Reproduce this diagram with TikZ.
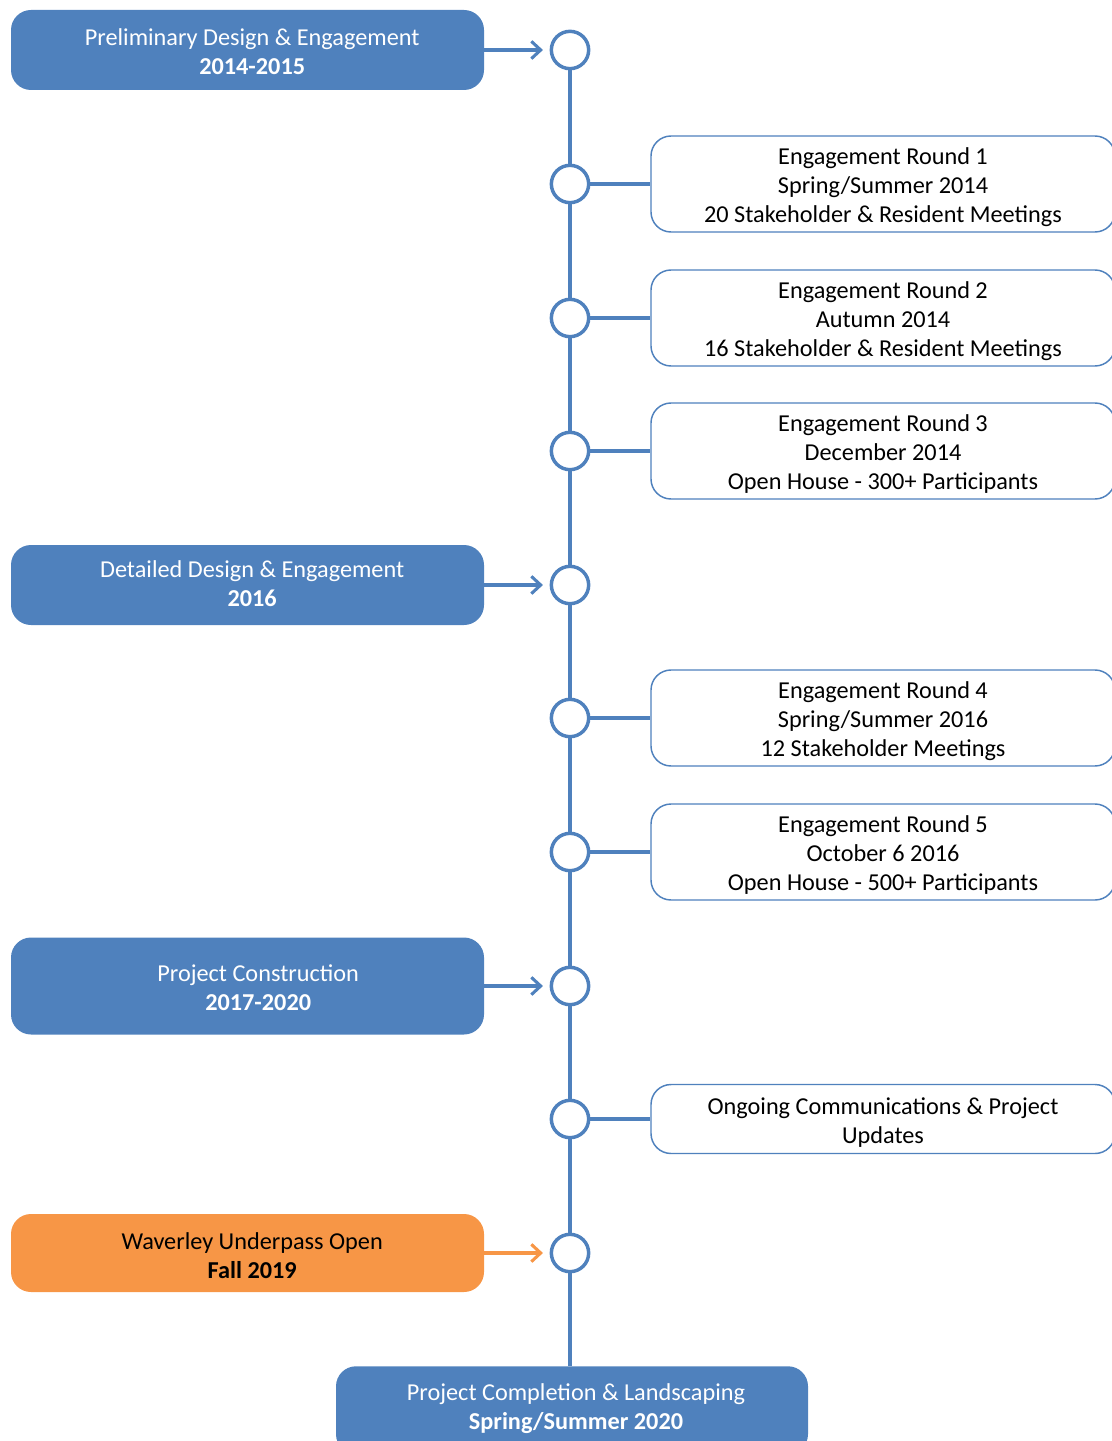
\documentclass[tikz,border=0pt]{standalone}
\usepackage{fontspec}
\setmainfont{Carlito}
\usetikzlibrary{arrows.meta}
\definecolor{tlblue}{RGB}{79,129,189}
\definecolor{tlorange}{RGB}{247,150,70}
\newcommand\boxtext[3]{\hspace*{#1}\raisebox{#2}[\height][\depth]{\begin{tabular}{@{}c@{}}#3\end{tabular}}}
\tikzset{
  phase/.style={draw=none, fill=tlblue, text=white, rounded corners=15pt, minimum width=354.75pt, align=center, inner sep=0pt, font=\fontsize{18.2}{21.75}\selectfont},
  phaseor/.style={phase, fill=tlorange, text=black},
  event/.style={draw=tlblue, line width=1.1pt, fill=white, text=black, rounded corners=15pt, minimum width=348pt, minimum height=72pt, align=center, inner sep=0pt, font=\fontsize{18.2}{21.75}\selectfont},
  dot/.style={circle, draw=tlblue, line width=2.6pt, fill=white, minimum size=28pt, inner sep=0pt},
  tl/.style={draw=tlblue, line width=2.3pt},
  phasearrow/.style={draw=tlblue, line width=2.3pt, -{Straight Barb[length=7pt,width=13pt,line width=2.3pt]}, shorten >=5pt},
  phasearrowor/.style={phasearrow, draw=tlorange}
}
\begin{document}
\begin{tikzpicture}[x=0.75pt,y=-0.75pt]
\path[use as bounding box] (0,0) rectangle (1112,1441);
\clip (0,0) rectangle (1112,1441);
% circles
\node[dot] (c1) at (570,50) {};
\node[dot] (c2) at (570,184) {};
\node[dot] (c3) at (570,318) {};
\node[dot] (c4) at (570,451) {};
\node[dot] (c5) at (570,585) {};
\node[dot] (c6) at (570,718) {};
\node[dot] (c7) at (570,852) {};
\node[dot] (c8) at (570,986) {};
\node[dot] (c9) at (570,1119) {};
\node[dot] (c10) at (570,1253) {};
% left phase boxes
\node[phase, minimum height=60pt] (b1) at (247.5,50) {\boxtext{7pt}{-3pt}{Preliminary Design \& Engagement\\\textbf{2014-2015}}};
\node[phase, minimum height=60pt] (b2) at (247.5,585) {\boxtext{7pt}{-0.75pt}{Detailed Design \& Engagement\\\textbf{2016}}};
\node[phase, minimum height=72.75pt] (b3) at (247.5,986) {\boxtext{16pt}{-3pt}{Project Construction\\\textbf{2017-2020}}};
\node[phaseor, minimum height=58.5pt] (b4) at (247.5,1253) {\boxtext{7pt}{-3.75pt}{Waverley Underpass Open\\\textbf{Fall 2019}}};
\node[phase, minimum width=354pt, minimum height=66pt, anchor=north] (b5) at (572,1366) {\boxtext{6pt}{0.75pt}{Project Completion \& Landscaping\\\textbf{Spring/Summer 2020}}};
% right event boxes
\node[event] (r1) at (883,184) {\boxtext{0pt}{-3pt}{Engagement Round 1\\Spring/Summer 2014\\20 Stakeholder \& Resident Meetings}};
\node[event] (r2) at (883,318) {\boxtext{0pt}{-3pt}{Engagement Round 2\\Autumn 2014\\16 Stakeholder \& Resident Meetings}};
\node[event] (r3) at (883,451) {\boxtext{0pt}{-3pt}{Engagement Round 3\\December 2014\\Open House - 300+ Participants}};
\node[event] (r4) at (883,718) {\boxtext{0pt}{-3pt}{Engagement Round 4\\Spring/Summer 2016\\12 Stakeholder Meetings}};
\node[event] (r5) at (883,852) {\boxtext{0pt}{-3pt}{Engagement Round 5\\October 6 2016\\Open House - 500+ Participants}};
\node[event, minimum height=51.75pt] (r6) at (883,1119) {\boxtext{0pt}{-3pt}{Ongoing Communications \& Project\\Updates}};
% timeline
\draw[tl] (c1) -- (c2);
\draw[tl] (c2) -- (c3);
\draw[tl] (c3) -- (c4);
\draw[tl] (c4) -- (c5);
\draw[tl] (c5) -- (c6);
\draw[tl] (c6) -- (c7);
\draw[tl] (c7) -- (c8);
\draw[tl] (c8) -- (c9);
\draw[tl] (c9) -- (c10);
\draw[tl] (c10) -- (c10 |- b5.north);
% connectors to events
\draw[tl] (c2) -- (r1.west);
\draw[tl] (c3) -- (r2.west);
\draw[tl] (c4) -- (r3.west);
\draw[tl] (c6) -- (r4.west);
\draw[tl] (c7) -- (r5.west);
\draw[tl] (c9) -- (r6.west);
% arrows from phases
\draw[phasearrow] (b1.east) -- (c1);
\draw[phasearrow] (b2.east) -- (c5);
\draw[phasearrow] (b3.east) -- (c8);
\draw[phasearrowor] (b4.east) -- (c10);
\end{tikzpicture}
\end{document}
